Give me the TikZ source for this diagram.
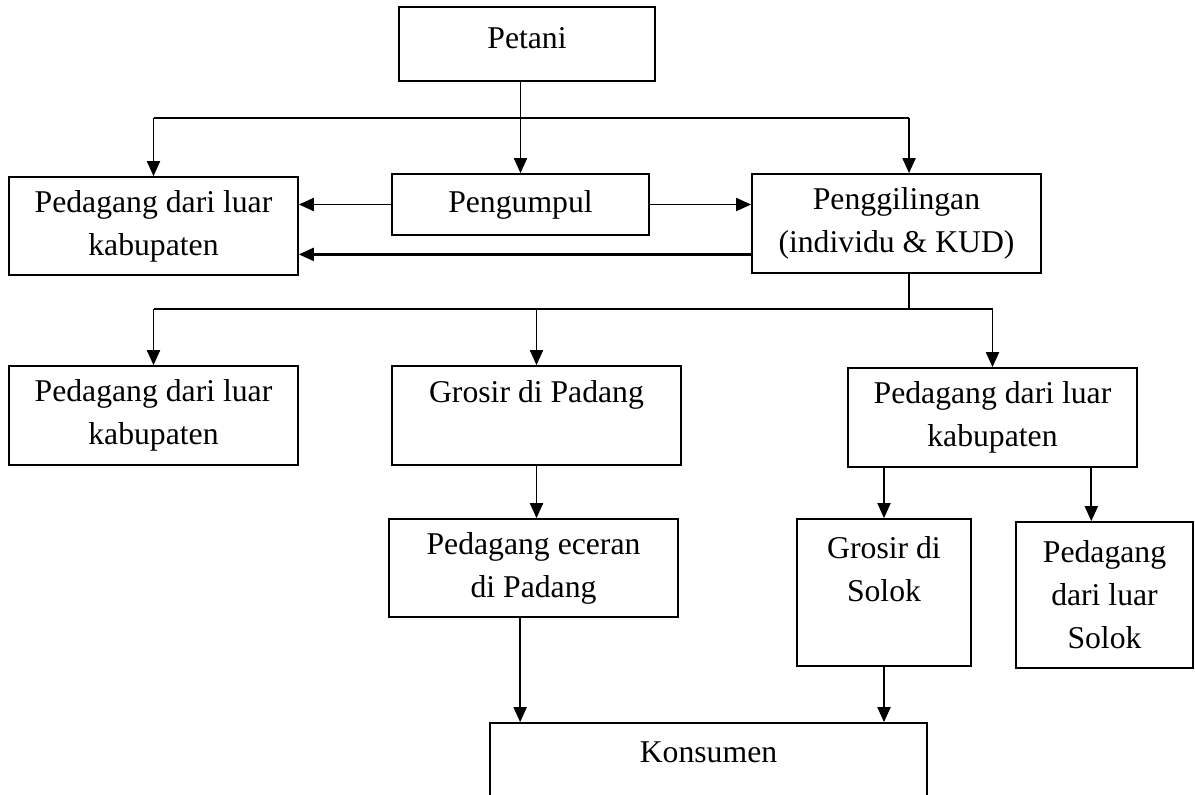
\documentclass[tikz,border=0pt]{standalone}
\usepackage{fontspec}
\setmainfont{Liberation Serif}
\usetikzlibrary{arrows.meta}

\begin{document}
\begin{tikzpicture}[x=0.5pt,y=-0.5pt,>={Triangle[width=6.5pt,length=7.5pt]},every node/.style={font=\fontsize{15.85}{21.5}\selectfont},
box/.style={draw,line width=0.85pt,align=center,inner sep=0pt},link/.style={line width=0.95pt}]
\useasboundingbox (0,0) rectangle (1195,794);
\node[box,minimum width=128pt,minimum height=37pt](petani) at (527,44){\raisebox{6pt}{Petani}};
\node[box,minimum width=128.5pt,minimum height=30.5pt](pengumpul) at (520.5,204.5){Pengumpul};
\node[box,minimum width=144.5pt,minimum height=49pt](luar1) at (153.5,226){Pedagang dari luar\\kabupaten};
\node[box,minimum width=144.5pt,minimum height=49.5pt](giling) at (896.5,223.5){Penggilingan\\(individu \& KUD)};
\node[box,minimum width=144.5pt,minimum height=49.5pt](luar2) at (153.5,415.5){Pedagang dari luar\\kabupaten};
\node[box,minimum width=144.5pt,minimum height=49.5pt](grosirpdg) at (536.5,415.5){\strut Grosir di Padang\\\strut};
\node[box,minimum width=144.5pt,minimum height=49.5pt](luar3) at (992.5,417.5){Pedagang dari luar\\kabupaten};
\node[box,minimum width=144.5pt,minimum height=49pt](eceran) at (533.5,568){Pedagang eceran\\di Padang};
\node[box,minimum width=87pt,minimum height=73.5pt](grosirslk) at (884,592.5){\strut Grosir di\\Solok\\\strut};
\node[box,minimum width=88.5pt,minimum height=73pt](luarslk) at (1104.5,595){Pedagang\\dari luar\\Solok};
\node[box,minimum width=218.5pt,minimum height=52pt](konsumen) at (708.5,775){\strut Konsumen\\\strut};

\coordinate (bus1) at (520,118);
\coordinate (bus2) at (909,309);
\draw[link,->] (petani.south -| pengumpul.north) -- (pengumpul.north);
\draw[link] (luar1.north |- bus1) -- (giling.76 |- bus1);
\draw[link,->] (luar1.north |- bus1) -- (luar1.north);
\draw[link,->] (giling.76 |- bus1) -- (giling.76);
\draw[link,->] (pengumpul.west) -- (pengumpul.west -| luar1.east);
\draw[link,->] (pengumpul.east) -- (pengumpul.east -| giling.west);
\draw[link,->,line width=1.15pt] (giling.192) -- (giling.192 -| luar1.east);

\draw[link] (giling.-76) -- (giling.-76 |- bus2);
\draw[link] (luar2.north |- bus2) -- (luar3.north |- bus2);
\draw[link,->] (luar2.north |- bus2) -- (luar2.north);
\draw[link,->] (grosirpdg.north |- bus2) -- (grosirpdg.north);
\draw[link,->] (luar3.north |- bus2) -- (luar3.north);
\draw[link,->] (grosirpdg.south) -- (grosirpdg.south |- eceran.north);
\draw[link,->] (grosirslk.north |- luar3.south) -- (grosirslk.north);
\draw[link,->] (luar3.-27) -- (luar3.-27 |- luarslk.north);
\draw[link,->] (eceran.-105) -- (eceran.-105 |- konsumen.north);
\draw[link,->] (grosirslk.south) -- (grosirslk.south |- konsumen.north);
\end{tikzpicture}
\end{document}
